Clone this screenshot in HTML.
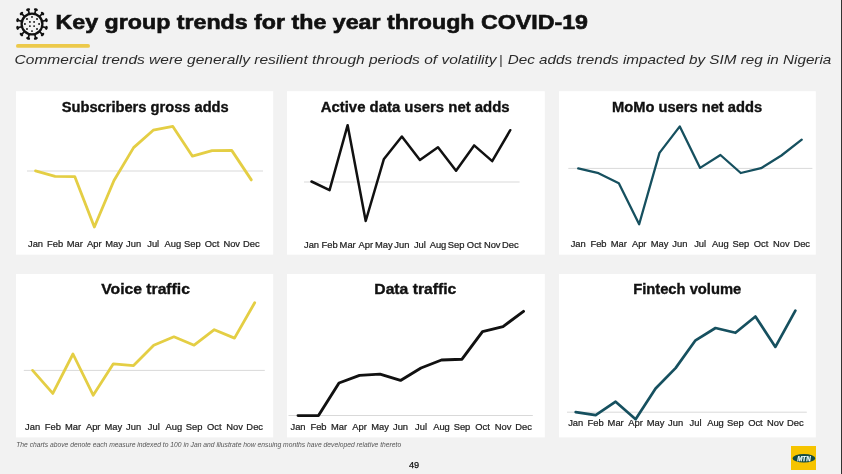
<!DOCTYPE html>
<html><head><meta charset="utf-8"><style>
html,body{margin:0;padding:0;}
body{width:842px;height:474px;overflow:hidden;background:#f2f2f2;position:relative;font-family:"Liberation Sans",sans-serif;}
svg{position:absolute;left:0;top:0;}
.t{font-family:"Liberation Sans",sans-serif;font-weight:bold;font-size:14px;fill:#111;stroke:#111;stroke-width:0.35px;}
.m{font-family:"Liberation Sans",sans-serif;font-size:8.3px;fill:#222;stroke:#222;stroke-width:0.2px;text-anchor:middle;}
.hh{font-size:20px;font-weight:bold;fill:#111;stroke:#111;stroke-width:0.6px;}
.ss{font-size:13.5px;font-style:italic;fill:#2a2a2a;}
.ff{font-size:7px;font-style:italic;fill:#555;}
.pp{font-size:9.2px;fill:#111;stroke:#111;stroke-width:0.25px;}
.rb{position:absolute;right:0;top:0;width:1px;height:474px;background:#333;}
.logo{position:absolute;left:791px;top:446px;width:25px;height:24px;background:#f6c400;}
</style></head><body>
<svg width="842" height="474" viewBox="0 0 842 474">
<rect x="16" y="91.2" width="257.2" height="163.5" fill="#fff"/>
<rect x="287" y="91.2" width="257.8" height="163.5" fill="#fff"/>
<rect x="559" y="91.2" width="256.8" height="163.5" fill="#fff"/>
<rect x="16" y="274" width="257.2" height="163.4" fill="#fff"/>
<rect x="287" y="274" width="257.8" height="163.4" fill="#fff"/>
<rect x="559" y="274" width="256.8" height="163.4" fill="#fff"/>
<line x1="27" y1="171.0" x2="263" y2="171.0" stroke="#d9d9d9" stroke-width="1"/>
<polyline points="35.50,170.90 55.12,176.40 74.74,176.60 94.36,227.00 113.98,180.50 133.60,147.60 153.22,130.20 172.84,126.40 192.46,156.20 212.08,150.60 231.70,150.40 251.32,179.90" fill="none" stroke="#e4ce44" stroke-width="2.8" stroke-linejoin="round" stroke-linecap="round"/>
<text x="61.8" y="111.7" class="t" textLength="166.9" lengthAdjust="spacingAndGlyphs">Subscribers gross adds</text>
<text transform="translate(35.50,246.5) scale(1.13,1)" class="m">Jan</text>
<text transform="translate(55.12,246.5) scale(1.13,1)" class="m">Feb</text>
<text transform="translate(74.74,246.5) scale(1.13,1)" class="m">Mar</text>
<text transform="translate(94.36,246.5) scale(1.13,1)" class="m">Apr</text>
<text transform="translate(113.98,246.5) scale(1.13,1)" class="m">May</text>
<text transform="translate(133.60,246.5) scale(1.13,1)" class="m">Jun</text>
<text transform="translate(153.22,246.5) scale(1.13,1)" class="m">Jul</text>
<text transform="translate(172.84,246.5) scale(1.13,1)" class="m">Aug</text>
<text transform="translate(192.46,246.5) scale(1.13,1)" class="m">Sep</text>
<text transform="translate(212.08,246.5) scale(1.13,1)" class="m">Oct</text>
<text transform="translate(231.70,246.5) scale(1.13,1)" class="m">Nov</text>
<text transform="translate(251.32,246.5) scale(1.13,1)" class="m">Dec</text>
<line x1="304" y1="182" x2="519.6" y2="182" stroke="#d9d9d9" stroke-width="1"/>
<polyline points="311.50,181.50 329.57,190.10 347.64,125.20 365.71,221.00 383.78,159.30 401.85,136.50 419.92,160.00 437.99,147.20 456.06,170.70 474.13,145.40 492.20,161.10 510.27,130.20" fill="none" stroke="#111111" stroke-width="2.5" stroke-linejoin="round" stroke-linecap="round"/>
<text x="320.7" y="112" class="t" textLength="188.9" lengthAdjust="spacingAndGlyphs">Active data users net adds</text>
<text transform="translate(311.50,247.7) scale(1.13,1)" class="m">Jan</text>
<text transform="translate(329.57,247.7) scale(1.13,1)" class="m">Feb</text>
<text transform="translate(347.64,247.7) scale(1.13,1)" class="m">Mar</text>
<text transform="translate(365.71,247.7) scale(1.13,1)" class="m">Apr</text>
<text transform="translate(383.78,247.7) scale(1.13,1)" class="m">May</text>
<text transform="translate(401.85,247.7) scale(1.13,1)" class="m">Jun</text>
<text transform="translate(419.92,247.7) scale(1.13,1)" class="m">Jul</text>
<text transform="translate(437.99,247.7) scale(1.13,1)" class="m">Aug</text>
<text transform="translate(456.06,247.7) scale(1.13,1)" class="m">Sep</text>
<text transform="translate(474.13,247.7) scale(1.13,1)" class="m">Oct</text>
<text transform="translate(492.20,247.7) scale(1.13,1)" class="m">Nov</text>
<text transform="translate(510.27,247.7) scale(1.13,1)" class="m">Dec</text>
<line x1="568.3" y1="168.4" x2="812.4" y2="168.4" stroke="#d9d9d9" stroke-width="1"/>
<polyline points="578.20,168.40 598.52,173.20 618.84,183.30 639.16,224.30 659.48,152.90 679.80,126.40 700.12,167.90 720.44,155.00 740.76,173.00 761.08,168.20 781.40,155.50 801.72,139.60" fill="none" stroke="#16505f" stroke-width="2.3" stroke-linejoin="round" stroke-linecap="round"/>
<text x="612.0" y="111.7" class="t" textLength="150.1" lengthAdjust="spacingAndGlyphs">MoMo users net adds</text>
<text transform="translate(578.20,246.8) scale(1.13,1)" class="m">Jan</text>
<text transform="translate(598.52,246.8) scale(1.13,1)" class="m">Feb</text>
<text transform="translate(618.84,246.8) scale(1.13,1)" class="m">Mar</text>
<text transform="translate(639.16,246.8) scale(1.13,1)" class="m">Apr</text>
<text transform="translate(659.48,246.8) scale(1.13,1)" class="m">May</text>
<text transform="translate(679.80,246.8) scale(1.13,1)" class="m">Jun</text>
<text transform="translate(700.12,246.8) scale(1.13,1)" class="m">Jul</text>
<text transform="translate(720.44,246.8) scale(1.13,1)" class="m">Aug</text>
<text transform="translate(740.76,246.8) scale(1.13,1)" class="m">Sep</text>
<text transform="translate(761.08,246.8) scale(1.13,1)" class="m">Oct</text>
<text transform="translate(781.40,246.8) scale(1.13,1)" class="m">Nov</text>
<text transform="translate(801.72,246.8) scale(1.13,1)" class="m">Dec</text>
<line x1="23.8" y1="370.4" x2="264.8" y2="370.4" stroke="#d9d9d9" stroke-width="1"/>
<polyline points="32.60,370.40 52.79,393.40 72.98,354.00 93.17,395.20 113.36,363.80 133.55,365.60 153.74,345.20 173.93,336.80 194.12,345.20 214.31,329.70 234.50,338.10 254.69,302.70" fill="none" stroke="#e4ce44" stroke-width="2.8" stroke-linejoin="round" stroke-linecap="round"/>
<text x="101.3" y="294.2" class="t" textLength="88.6" lengthAdjust="spacingAndGlyphs">Voice traffic</text>
<text transform="translate(32.60,429.6) scale(1.13,1)" class="m">Jan</text>
<text transform="translate(52.79,429.6) scale(1.13,1)" class="m">Feb</text>
<text transform="translate(72.98,429.6) scale(1.13,1)" class="m">Mar</text>
<text transform="translate(93.17,429.6) scale(1.13,1)" class="m">Apr</text>
<text transform="translate(113.36,429.6) scale(1.13,1)" class="m">May</text>
<text transform="translate(133.55,429.6) scale(1.13,1)" class="m">Jun</text>
<text transform="translate(153.74,429.6) scale(1.13,1)" class="m">Jul</text>
<text transform="translate(173.93,429.6) scale(1.13,1)" class="m">Aug</text>
<text transform="translate(194.12,429.6) scale(1.13,1)" class="m">Sep</text>
<text transform="translate(214.31,429.6) scale(1.13,1)" class="m">Oct</text>
<text transform="translate(234.50,429.6) scale(1.13,1)" class="m">Nov</text>
<text transform="translate(254.69,429.6) scale(1.13,1)" class="m">Dec</text>
<line x1="288.5" y1="415.5" x2="532.8" y2="415.5" stroke="#d9d9d9" stroke-width="1"/>
<polyline points="298.00,415.60 318.50,415.60 339.00,383.00 359.50,375.40 380.00,374.10 400.50,380.40 421.00,368.00 441.50,360.00 462.00,359.20 482.50,331.60 503.00,326.60 523.50,311.40" fill="none" stroke="#111111" stroke-width="2.9" stroke-linejoin="round" stroke-linecap="round"/>
<text x="374.3" y="293.6" class="t" textLength="82.0" lengthAdjust="spacingAndGlyphs">Data traffic</text>
<text transform="translate(298.00,429.6) scale(1.13,1)" class="m">Jan</text>
<text transform="translate(318.50,429.6) scale(1.13,1)" class="m">Feb</text>
<text transform="translate(339.00,429.6) scale(1.13,1)" class="m">Mar</text>
<text transform="translate(359.50,429.6) scale(1.13,1)" class="m">Apr</text>
<text transform="translate(380.00,429.6) scale(1.13,1)" class="m">May</text>
<text transform="translate(400.50,429.6) scale(1.13,1)" class="m">Jun</text>
<text transform="translate(421.00,429.6) scale(1.13,1)" class="m">Jul</text>
<text transform="translate(441.50,429.6) scale(1.13,1)" class="m">Aug</text>
<text transform="translate(462.00,429.6) scale(1.13,1)" class="m">Sep</text>
<text transform="translate(482.50,429.6) scale(1.13,1)" class="m">Oct</text>
<text transform="translate(503.00,429.6) scale(1.13,1)" class="m">Nov</text>
<text transform="translate(523.50,429.6) scale(1.13,1)" class="m">Dec</text>
<line x1="567" y1="412.2" x2="806.8" y2="412.2" stroke="#d9d9d9" stroke-width="1"/>
<polyline points="575.70,412.20 595.67,415.20 615.64,401.70 635.61,419.30 655.58,388.50 675.55,368.10 695.52,340.30 715.49,328.00 735.46,332.80 755.43,316.50 775.40,346.90 795.37,310.60" fill="none" stroke="#16505f" stroke-width="2.7" stroke-linejoin="round" stroke-linecap="round"/>
<text x="633.2" y="293.7" class="t" textLength="108.0" lengthAdjust="spacingAndGlyphs">Fintech volume</text>
<text transform="translate(575.70,425.9) scale(1.13,1)" class="m">Jan</text>
<text transform="translate(595.67,425.9) scale(1.13,1)" class="m">Feb</text>
<text transform="translate(615.64,425.9) scale(1.13,1)" class="m">Mar</text>
<text transform="translate(635.61,425.9) scale(1.13,1)" class="m">Apr</text>
<text transform="translate(655.58,425.9) scale(1.13,1)" class="m">May</text>
<text transform="translate(675.55,425.9) scale(1.13,1)" class="m">Jun</text>
<text transform="translate(695.52,425.9) scale(1.13,1)" class="m">Jul</text>
<text transform="translate(715.49,425.9) scale(1.13,1)" class="m">Aug</text>
<text transform="translate(735.46,425.9) scale(1.13,1)" class="m">Sep</text>
<text transform="translate(755.43,425.9) scale(1.13,1)" class="m">Oct</text>
<text transform="translate(775.40,425.9) scale(1.13,1)" class="m">Nov</text>
<text transform="translate(795.37,425.9) scale(1.13,1)" class="m">Dec</text>
<circle cx="32" cy="24" r="10.4" fill="none" stroke="#111" stroke-width="2.3"/>
<line x1="42.43" y1="26.80" x2="45.72" y2="27.68" stroke="#111" stroke-width="1.7"/>
<ellipse cx="46.39" cy="27.86" rx="1.35" ry="2.05" transform="rotate(15.0 46.39 27.86)" fill="#111"/>
<line x1="39.64" y1="31.64" x2="42.04" y2="34.04" stroke="#111" stroke-width="1.7"/>
<ellipse cx="42.54" cy="34.54" rx="1.35" ry="2.05" transform="rotate(45.0 42.54 34.54)" fill="#111"/>
<line x1="34.80" y1="34.43" x2="35.68" y2="37.72" stroke="#111" stroke-width="1.7"/>
<ellipse cx="35.86" cy="38.39" rx="1.35" ry="2.05" transform="rotate(75.0 35.86 38.39)" fill="#111"/>
<line x1="29.20" y1="34.43" x2="28.32" y2="37.72" stroke="#111" stroke-width="1.7"/>
<ellipse cx="28.14" cy="38.39" rx="1.35" ry="2.05" transform="rotate(105.0 28.14 38.39)" fill="#111"/>
<line x1="24.36" y1="31.64" x2="21.96" y2="34.04" stroke="#111" stroke-width="1.7"/>
<ellipse cx="21.46" cy="34.54" rx="1.35" ry="2.05" transform="rotate(135.0 21.46 34.54)" fill="#111"/>
<line x1="21.57" y1="26.80" x2="18.28" y2="27.68" stroke="#111" stroke-width="1.7"/>
<ellipse cx="17.61" cy="27.86" rx="1.35" ry="2.05" transform="rotate(165.0 17.61 27.86)" fill="#111"/>
<line x1="21.57" y1="21.20" x2="18.28" y2="20.32" stroke="#111" stroke-width="1.7"/>
<ellipse cx="17.61" cy="20.14" rx="1.35" ry="2.05" transform="rotate(195.0 17.61 20.14)" fill="#111"/>
<line x1="24.36" y1="16.36" x2="21.96" y2="13.96" stroke="#111" stroke-width="1.7"/>
<ellipse cx="21.46" cy="13.46" rx="1.35" ry="2.05" transform="rotate(225.0 21.46 13.46)" fill="#111"/>
<line x1="29.20" y1="13.57" x2="28.32" y2="10.28" stroke="#111" stroke-width="1.7"/>
<ellipse cx="28.14" cy="9.61" rx="1.35" ry="2.05" transform="rotate(255.0 28.14 9.61)" fill="#111"/>
<line x1="34.80" y1="13.57" x2="35.68" y2="10.28" stroke="#111" stroke-width="1.7"/>
<ellipse cx="35.86" cy="9.61" rx="1.35" ry="2.05" transform="rotate(285.0 35.86 9.61)" fill="#111"/>
<line x1="39.64" y1="16.36" x2="42.04" y2="13.96" stroke="#111" stroke-width="1.7"/>
<ellipse cx="42.54" cy="13.46" rx="1.35" ry="2.05" transform="rotate(315.0 42.54 13.46)" fill="#111"/>
<line x1="42.43" y1="21.20" x2="45.72" y2="20.32" stroke="#111" stroke-width="1.7"/>
<ellipse cx="46.39" cy="20.14" rx="1.35" ry="2.05" transform="rotate(345.0 46.39 20.14)" fill="#111"/>
<circle cx="29.9" cy="21.9" r="0.95" fill="#111"/>
<circle cx="34.1" cy="21.9" r="0.95" fill="#111"/>
<circle cx="29.9" cy="26.1" r="0.95" fill="#111"/>
<circle cx="34.1" cy="26.1" r="0.95" fill="#111"/>
<circle cx="32.00" cy="16.90" r="0.95" fill="#111"/>
<circle cx="37.02" cy="18.98" r="0.95" fill="#111"/>
<circle cx="39.10" cy="24.00" r="0.95" fill="#111"/>
<circle cx="37.02" cy="29.02" r="0.95" fill="#111"/>
<circle cx="32.00" cy="31.10" r="0.95" fill="#111"/>
<circle cx="26.98" cy="29.02" r="0.95" fill="#111"/>
<circle cx="24.90" cy="24.00" r="0.95" fill="#111"/>
<circle cx="26.98" cy="18.98" r="0.95" fill="#111"/>
<text x="55.6" y="29.05" class="hh" textLength="532.4" lengthAdjust="spacingAndGlyphs">Key group trends for the year through COVID-19</text>
<text x="14.6" y="64.1" class="ss" textLength="482.0" lengthAdjust="spacingAndGlyphs">Commercial trends were generally resilient through periods of volatility</text>
<text x="500.7" y="64.1" class="ss" text-anchor="middle">|</text>
<text x="507.8" y="64.1" class="ss" textLength="323.5" lengthAdjust="spacingAndGlyphs">Dec adds trends impacted by SIM reg in Nigeria</text>
<text x="16.2" y="446.9" class="ff" textLength="385" lengthAdjust="spacingAndGlyphs">The charts above denote each measure indexed to 100 in Jan and illustrate how ensuing months have developed relative thereto</text>
<text x="409.0" y="468.0" class="pp">49</text>
<rect x="16" y="44" width="74" height="3.8" rx="1.9" fill="#ecc94a"/>
</svg>
<div class="logo"><svg width="25" height="24" viewBox="0 0 25 24"><ellipse cx="12.9" cy="12.2" rx="11.4" ry="4.3" fill="#124a44"/><text x="12.9" y="15" font-family="Liberation Sans" font-weight="bold" font-style="italic" font-size="7.2" fill="#eafaff" stroke="#eafaff" stroke-width="0.25" text-anchor="middle" textLength="13.5" lengthAdjust="spacingAndGlyphs">MTN</text></svg></div>
<div class="rb"></div>
</body></html>
